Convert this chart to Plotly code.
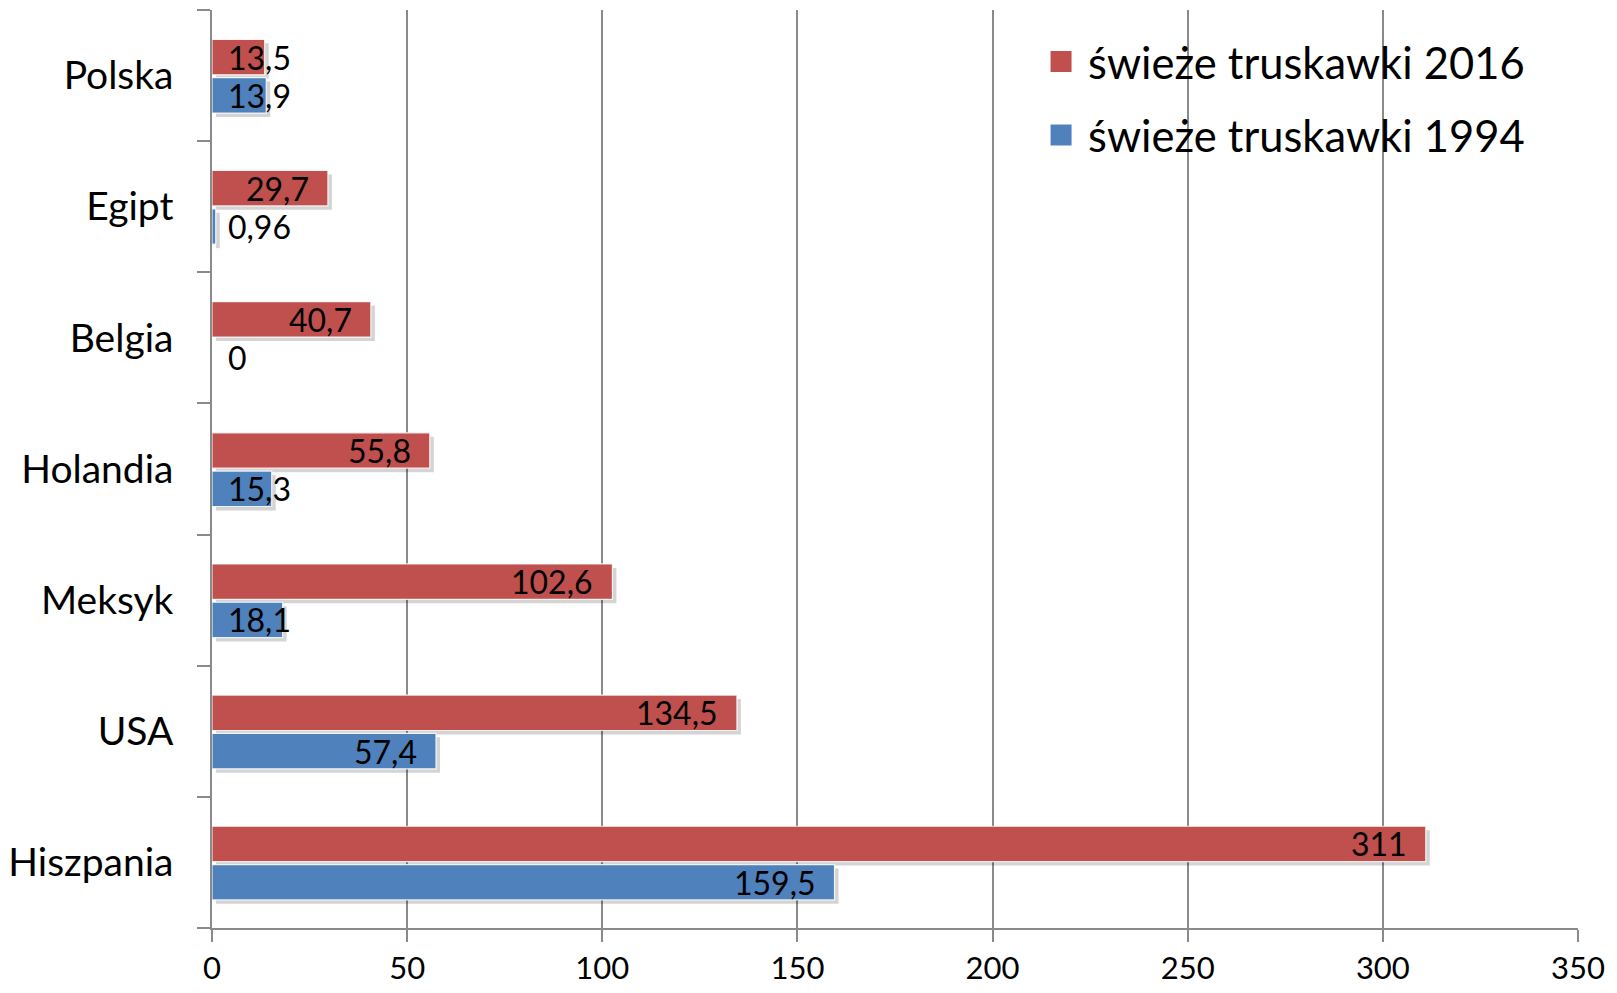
import plotly.graph_objects as go

# Data (top-to-bottom order as in the reference)
countries_top_down = ["Polska", "Egipt", "Belgia", "Holandia", "Meksyk", "USA", "Hiszpania"]
values_2016_top_down = [13.5, 29.7, 40.7, 55.8, 102.6, 134.5, 311]
values_1994_top_down = [13.9, 0.96, 0, 15.3, 18.1, 57.4, 159.5]
series_names = ["świeże truskawki 2016", "świeże truskawki 1994"]
x_ticks = [0, 50, 100, 150, 200, 250, 300, 350]

countries = countries_top_down[::-1]
v2016 = values_2016_top_down[::-1]
v1994 = values_1994_top_down[::-1]

RED = "#C0504D"
BLUE = "#4F81BD"
FONT = "Lato"

# the page body has an 8px margin: keep the figure inside the 1617x993 window
W, H = 1601, 977
ML, MR, MT, MB = 204, 31, 2, 57
plot_w = W - ML - MR
px_per_unit = plot_w / 350.0

BW = 0.27
OFF_RED = 0.006
OFF_BLUE = -0.286
SH_DY = 0.03
SH_DX = 4 / px_per_unit

fig = go.Figure()

# shadows
for vals, off in [(v1994, OFF_BLUE), (v2016, OFF_RED)]:
    fig.add_trace(go.Bar(
        y=countries, x=vals, base=SH_DX, orientation="h",
        width=BW, offset=off - SH_DY,
        marker=dict(color="rgba(0,0,0,0.17)", line=dict(width=0)),
        showlegend=False, hoverinfo="skip"))

fig.add_trace(go.Bar(
    y=countries, x=v1994, orientation="h", name=series_names[1],
    width=BW, offset=OFF_BLUE, showlegend=False,
    marker=dict(color=BLUE, line=dict(color="rgba(255,255,255,0.85)", width=1.2))))
fig.add_trace(go.Bar(
    y=countries, x=v2016, orientation="h", name=series_names[0],
    width=BW, offset=OFF_RED, showlegend=False,
    marker=dict(color=RED, line=dict(color="rgba(255,255,255,0.85)", width=1.2))))

# legend entries (larger square symbols)
for name, col, grp, rank in [(series_names[0], RED, "a", 1), (series_names[1], BLUE, "b", 2)]:
    fig.add_trace(go.Scatter(
        x=[None], y=[None], mode="markers", name=name, legendgroup=grp, legendrank=rank,
        marker=dict(symbol="square", size=16, color=col, line=dict(color=col, width=5)),
        hoverinfo="skip"))

LABEL_SIZE = 32
CHAR_W = 0.56 * LABEL_SIZE


def fmt(v):
    return f"{v:g}".replace(".", ",")


annotations = []
for vals, off in [(v1994, OFF_BLUE), (v2016, OFF_RED)]:
    for i, v in enumerate(vals):
        t = fmt(v)
        tw = len(t) * CHAR_W
        ycen = i + off + BW / 2
        if v * px_per_unit - 18 - tw >= 16:
            annotations.append(dict(x=v, y=ycen, text=t, xanchor="right", xshift=-17,
                                    showarrow=False, yanchor="middle",
                                    font=dict(family=FONT, size=LABEL_SIZE, color="black")))
        else:
            annotations.append(dict(x=0, y=ycen, text=t, xanchor="left", xshift=14,
                                    showarrow=False, yanchor="middle",
                                    font=dict(family=FONT, size=LABEL_SIZE, color="black")))

fig.update_layout(
    width=W, height=H,
    margin=dict(l=ML, r=MR, t=MT, b=MB, pad=0),
    barmode="overlay",
    plot_bgcolor="white", paper_bgcolor="white",
    font=dict(family=FONT, color="black"),
    annotations=annotations,
    legend=dict(
        x=0.6018, y=0.9817, xanchor="left", yanchor="top",
        traceorder="grouped", tracegroupgap=14, itemwidth=44,
        font=dict(family=FONT, size=43.5, color="black"),
        bgcolor="rgba(0,0,0,0)"),
    xaxis=dict(
        range=[0, 350], tickvals=x_ticks, ticktext=[str(t) for t in x_ticks],
        showgrid=True, gridcolor="#8a8a8a", gridwidth=1.5,
        showline=True, linecolor="#8a8a8a", linewidth=1.5,
        ticks="outside", ticklen=12, tickcolor="#8a8a8a", tickwidth=1.5,
        tickfont=dict(family=FONT, size=31, color="black"),
        ticklabelstandoff=0, automargin=False,
        zeroline=False, fixedrange=True),
    yaxis=dict(
        categoryorder="array", categoryarray=countries,
        range=[-0.5, len(countries) - 0.5],
        showgrid=False, showline=True, linecolor="#8a8a8a", linewidth=1.5,
        ticks="outside", ticklen=13, tickcolor="#8a8a8a", tickwidth=1.5,
        tickson="boundaries",
        tickfont=dict(family=FONT, size=39, color="black"),
        ticklabelstandoff=29, automargin=False,
        zeroline=False, fixedrange=True),
)

fig.write_html("out.html")
